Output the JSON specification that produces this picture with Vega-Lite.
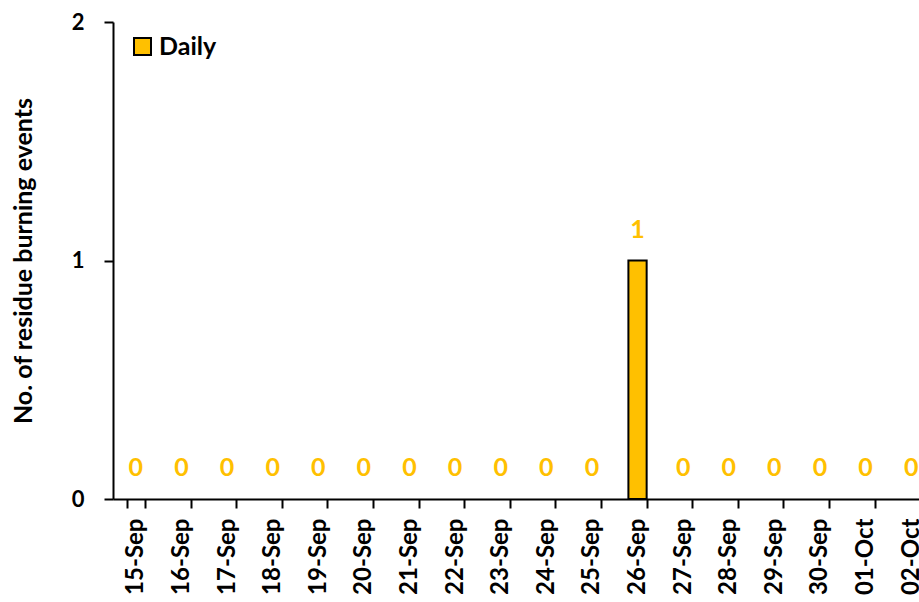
{
  "$schema": "https://vega.github.io/schema/vega-lite/v6.json",
  "autosize": {"type": "none"},
  "padding": {"left": 113, "top": 22, "right": 0, "bottom": 103},
  "width": 821,
  "height": 477,
  "background": "white",
  "title": {"text": "Delhi", "font": "Lato", "fontSize": 34, "fontWeight": "bold", "color": "black", "anchor": "middle", "dx": -49, "offset": 17, "baseline": "alphabetic"},
  "config": {"view": {"stroke": null}, "font": "Lato"},
  "data": {"values": [
    {"date": "15-Sep", "count": 0, "series": "Daily"},
    {"date": "16-Sep", "count": 0, "series": "Daily"},
    {"date": "17-Sep", "count": 0, "series": "Daily"},
    {"date": "18-Sep", "count": 0, "series": "Daily"},
    {"date": "19-Sep", "count": 0, "series": "Daily"},
    {"date": "20-Sep", "count": 0, "series": "Daily"},
    {"date": "21-Sep", "count": 0, "series": "Daily"},
    {"date": "22-Sep", "count": 0, "series": "Daily"},
    {"date": "23-Sep", "count": 0, "series": "Daily"},
    {"date": "24-Sep", "count": 0, "series": "Daily"},
    {"date": "25-Sep", "count": 0, "series": "Daily"},
    {"date": "26-Sep", "count": 1, "series": "Daily"},
    {"date": "27-Sep", "count": 0, "series": "Daily"},
    {"date": "28-Sep", "count": 0, "series": "Daily"},
    {"date": "29-Sep", "count": 0, "series": "Daily"},
    {"date": "30-Sep", "count": 0, "series": "Daily"},
    {"date": "01-Oct", "count": 0, "series": "Daily"},
    {"date": "02-Oct", "count": 0, "series": "Daily"}
  ]},
  "encoding": {
    "x": {"field": "date", "type": "ordinal", "sort": null,
      "scale": {"paddingInner": 0.6, "paddingOuter": 0.3},
      "axis": {"title": null, "labelAngle": -90, "labelFont": "Lato", "labelFontSize": 24, "labelFontWeight": "bold", "labelColor": "black",
        "domainColor": "black", "domainWidth": 2, "tickColor": "black", "tickWidth": 2, "tickSize": 9, "tickBand": "extent", "labelPadding": 10}},
    "y": {"field": "count", "type": "quantitative",
      "scale": {"domain": [0, 2], "nice": false},
      "axis": {"title": "No. of residue burning events", "values": [0, 1, 2], "tickCount": 3, "labelExpr": "'' + round(datum.value)", "grid": false, "labelOverlap": false,
        "labelFont": "Lato", "labelFontSize": 22, "labelFontWeight": "bold", "labelColor": "black",
        "titleFont": "Lato", "titleFontSize": 25, "titleFontWeight": "bold", "titleColor": "black", "titlePadding": 35,
        "domainColor": "black", "domainWidth": 2, "tickColor": "black", "tickWidth": 2, "tickSize": 9, "labelPadding": 20}}
  },
  "layer": [
    {"mark": {"type": "bar", "stroke": "black", "strokeWidth": 2},
      "encoding": {
        "strokeOpacity": {"condition": {"test": "datum.count > 0", "value": 1}, "value": 0},
        "color": {"field": "series", "type": "nominal", "scale": {"range": ["#FFC000"]},
        "legend": {"title": null, "orient": "none", "legendX": 17, "legendY": 12, "symbolType": "square", "symbolSize": 289,
          "symbolStrokeColor": "black", "symbolStrokeWidth": 2, "symbolFillColor": "#FFC000", "symbolOpacity": 1,
          "labelFont": "Lato", "labelFontSize": 25, "labelFontWeight": "bold", "labelColor": "black", "labelOffset": 4}}}},
    {"mark": {"type": "text", "baseline": "bottom", "dy": -18, "color": "#FFC000", "font": "Lato", "fontSize": 25, "fontWeight": "bold"},
      "encoding": {"text": {"field": "count", "type": "quantitative"}}}
  ]
}
